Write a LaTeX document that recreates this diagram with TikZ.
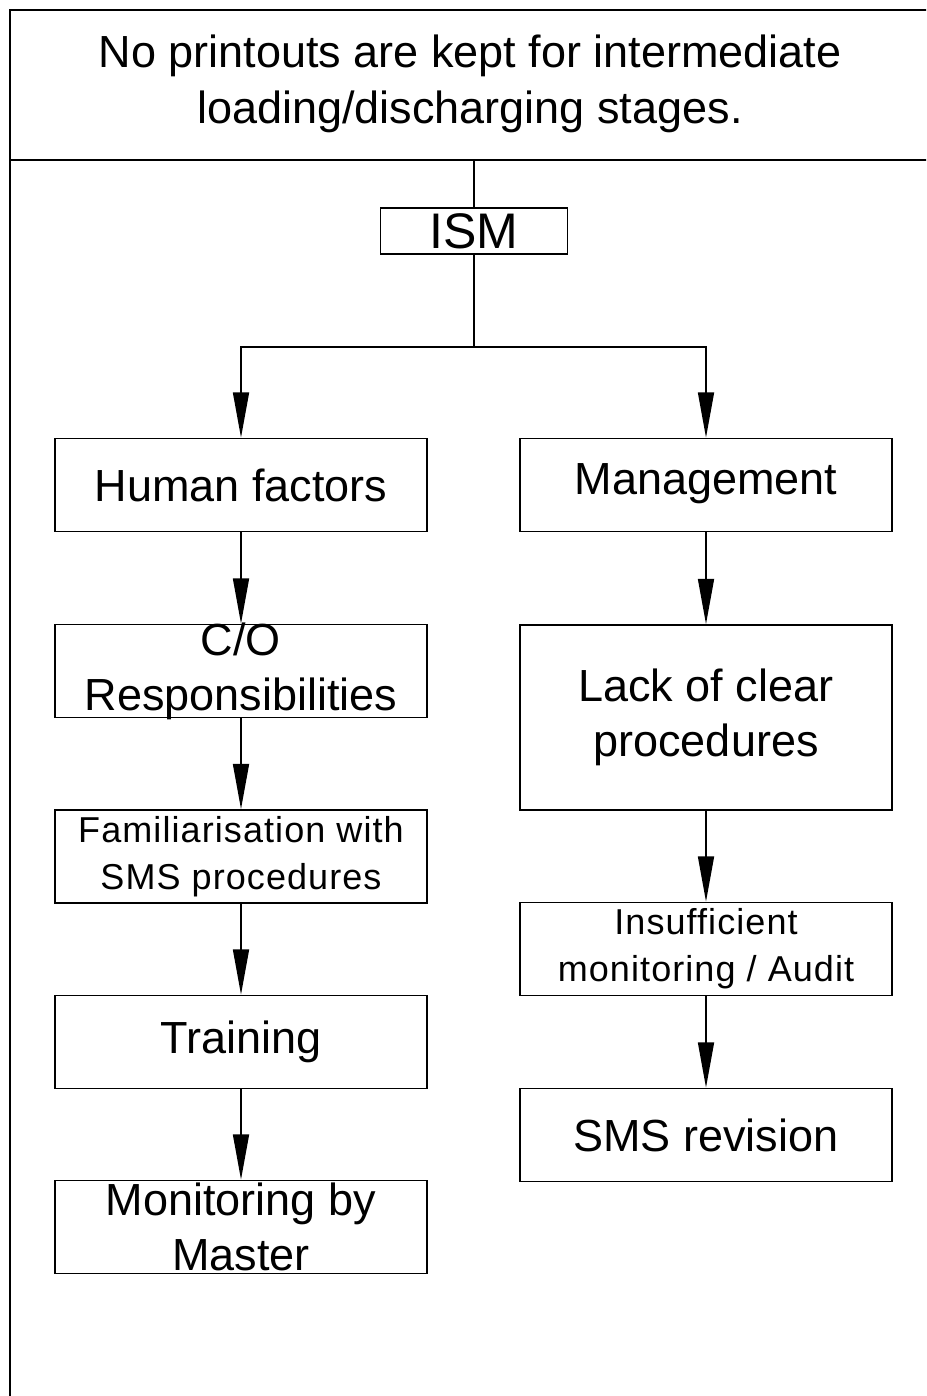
\documentclass[tikz,border=0pt]{standalone}
\usepackage{fontspec}
\setmainfont{Liberation Sans}
\usetikzlibrary{arrows.meta}
\begin{document}
\begin{tikzpicture}[x=0.75pt,y=-0.75pt,line width=1.3pt,
  box/.style={draw,inner sep=0pt,minimum width=279pt,minimum height=69.75pt},
  lbl/.style={align=center,inner sep=0pt,font=\fontsize{33.75}{41.25}\selectfont},
  smalllbl/.style={align=center,inner sep=0pt,font=\fontsize{27}{35}\selectfont\addfontfeature{LetterSpace=3}},
  flow/.style={-{Triangle[length=34pt,width=12pt]}}]
\useasboundingbox (0,0) rectangle (926,1396);
\clip (0,0) rectangle (926,1396);
% outer frame and header rule
\draw (10,1420) -- (10,10) -- (940,10);
\draw (10,160) -- (940,160);
\node[lbl,font=\fontsize{33.75}{42}\selectfont] (head) at (470,84)
  {No printouts are kept for intermediate\\loading/discharging stages.};
% boxes
\node[box,minimum width=140.25pt,minimum height=34.5pt] (ism) at (474,231) {};
\node[lbl,font=\fontsize{37.5}{40}\selectfont] (ismt) at (ism.center) {ISM};
\node[box] (hf) at (241,485) {};
\node[lbl] (hft) at (hf.center) {Human factors};
\node[box] (mg) at (706,485) {};
\node[lbl] (mgt) at ([yshift=1pt]mg.center) {Management};
\node[box] (co) at (241,671) {};
\node[lbl] (cot) at (co.center) {C/O\\Responsibilities};
\node[box] (fam) at (241,856.5) {};
\node[smalllbl] (famt) at (fam.center) {Familiarisation with\\SMS procedures};
\node[box] (tr) at (241,1042) {};
\node[lbl] (trt) at (tr.center) {Training};
\node[box] (mon) at (241,1227) {};
\node[lbl] (mont) at (mon.center) {Monitoring by\\Master};
\node[box,minimum height=138.75pt] (lack) at (706,717.5) {};
\node[lbl] (lackt) at (lack.center) {Lack of clear\\procedures};
\node[box] (ins) at (706,949) {};
\node[smalllbl] (inst) at (ins.center) {Insufficient\\monitoring / Audit};
\node[box] (sms) at (706,1135) {};
\node[lbl] (smst) at (sms.center) {SMS revision};
% connectors
\coordinate (sep) at (474,160);
\coordinate (fork) at (474,347);
\draw (sep) -- (ism.north);
\draw (ism.south) -- (fork);
\draw[flow] (fork) -| (hf.north);
\draw[flow] (fork) -| (mg.north);
\draw[flow] (hf.south) -- (co.north);
\draw[flow] (co.south) -- (fam.north);
\draw[flow] (fam.south) -- (tr.north);
\draw[flow] (tr.south) -- (mon.north);
\draw[flow] (mg.south) -- (lack.north);
\draw[flow] (lack.south) -- (ins.north);
\draw[flow] (ins.south) -- (sms.north);
\end{tikzpicture}
\end{document}
